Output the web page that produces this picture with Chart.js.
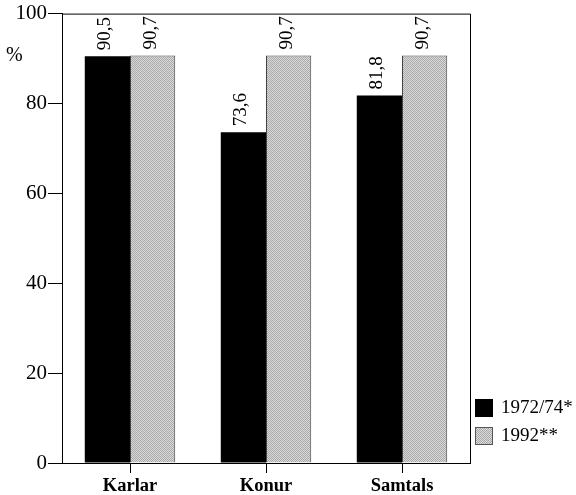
<!DOCTYPE html>
<html><head><meta charset="utf-8">
<script src="https://cdn.jsdelivr.net/npm/chart.js@4"></script>
<style>html,body{margin:0;padding:0;background:#fff}#wrap{width:576px;height:495px}</style>
</head><body><div id="wrap"><canvas id="c" width="576" height="495"></canvas></div>
<script>
const categories = ["Karlar", "Konur", "Samtals"];
const seriesNames = ["1972/74*", "1992**"];
const values1972 = [90.5, 73.6, 81.8];
const values1992 = [90.7, 90.7, 90.7];
const yTicks = [0, 20, 40, 60, 80, 100];

function makePattern() {
  const p = document.createElement('canvas');
  p.width = 4; p.height = 4;
  const g = p.getContext('2d');
  const cols = [['#a6a6a6','#dcdcdc','#b0b0b0','#d4d4d4'],
                ['#d6d6d6','#acacac','#dedede','#a8a8a8'],
                ['#aeaeae','#dadada','#a4a4a4','#d8d8d8'],
                ['#d8d8d8','#aaaaaa','#d2d2d2','#b2b2b2']];
  for (let y=0;y<4;y++) for (let x=0;x<4;x++){ g.fillStyle=cols[y][x]; g.fillRect(x,y,1,1); }
  return g.createPattern(p, 'repeat');
}
const ctx = document.getElementById('c').getContext('2d');
const grayPat = makePattern();
const SERIF = "'Liberation Serif', 'Times New Roman', serif";

const fmt = v => v.toFixed(1).replace('.', ',');

const extras = {
  id: 'extras',
  afterDatasetsDraw(chart) {
    const c = chart.ctx;
    const a = chart.chartArea;
    c.save();
    c.strokeStyle = '#000'; c.lineWidth = 1;
    c.beginPath();
    c.moveTo(a.left, a.top + 0.5); c.lineTo(a.right + 0.5, a.top + 0.5); c.lineTo(a.right + 0.5, a.bottom);
    c.stroke();
    c.fillStyle = '#000';
    c.font = '19px ' + SERIF;
    c.textAlign = 'left'; c.textBaseline = 'middle';
    chart.data.datasets.forEach((ds, di) => {
      const meta = chart.getDatasetMeta(di);
      meta.data.forEach((bar, i) => {
        c.save();
        c.translate(bar.x - 2, bar.y - 6);
        c.rotate(-Math.PI / 2);
        c.fillText(fmt(ds.data[i]), 0, 0);
        c.restore();
      });
    });
    c.font = '20px ' + SERIF;
    c.textAlign = 'left'; c.textBaseline = 'middle';
    c.fillText('%', 6, 56);
    c.font = '19px ' + SERIF;
    const lx = 475, ly = [399, 427];
    chart.data.datasets.forEach((ds, di) => {
      c.fillStyle = ds.backgroundColor;
      c.fillRect(lx, ly[di], 18, 18);
      c.strokeStyle = di === 0 ? '#000' : '#555';
      c.strokeRect(lx + 0.5, ly[di] + 0.5, 17, 17);
      c.fillStyle = '#000';
      c.fillText(ds.label, lx + 26, ly[di] + 9);
    });
    c.restore();
  }
};

new Chart(ctx, {
  type: 'bar',
  data: {
    labels: categories,
    datasets: [
      { label: seriesNames[0], data: values1972, backgroundColor: '#000', borderColor: '#000', borderWidth: 0 },
      { label: seriesNames[1], data: values1992, backgroundColor: grayPat, borderColor: '#444', borderWidth: 1 }
    ]
  },
  options: {
    responsive: false,
    animation: false,
    devicePixelRatio: 1,
    layout: { padding: { left: 0, right: 106, top: 11, bottom: 0 } },
    plugins: { legend: { display: false }, tooltip: { enabled: false } },
    datasets: { bar: { barPercentage: 1.0, categoryPercentage: 0.665 } },
    scales: {
      x: {
        grid: { display: true, drawOnChartArea: false, offset: false, color: '#000', tickLength: 10, tickColor: '#000' },
        border: { display: true, color: '#000', width: 1 },
        ticks: { color: '#000', padding: 2, font: { family: SERIF, size: 18.5, weight: 'bold' } },
        afterFit: s => { s.height = 32; }
      },
      y: {
        min: 0, max: 100,
        afterBuildTicks: s => { s.ticks = yTicks.map(v => ({ value: v })); },
        grid: { display: true, drawOnChartArea: false, color: '#000', tickLength: 14, tickColor: '#000' },
        border: { display: true, color: '#000', width: 1 },
        ticks: { color: '#000', padding: 1, font: { family: SERIF, size: 21 } },
        afterFit: s => { s.width = 62; }
      }
    }
  },
  plugins: [extras]
});
</script></body></html>
